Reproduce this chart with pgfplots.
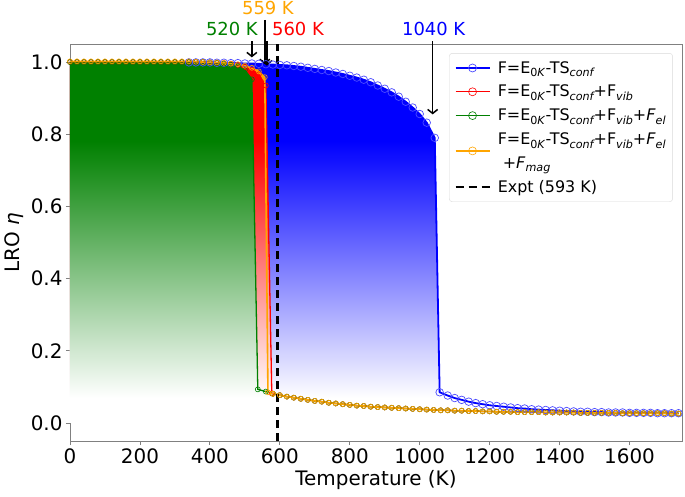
\documentclass[border=0pt]{standalone}
\usepackage{fontspec}
\setmainfont{DejaVu Sans}
\usepackage{pgfplots}
\pgfplotsset{compat=1.18}
\usepackage{pgfplotstable}
\usetikzlibrary{arrows.meta}
\definecolor{mgreen}{RGB}{0,128,0}
\definecolor{morange}{RGB}{255,165,0}
\newcommand\sub[1]{\raisebox{-0.22em}{\fontsize{11.2}{12}\selectfont\itshape #1}}
\newcommand\subOK{\raisebox{-0.22em}{\fontsize{11.2}{12}\selectfont 0\textit{K}}}
\pgfdeclareverticalshading{fblue}{100bp}{color(0bp)=(white); color(28.5bp)=(white); color(64bp)=(blue); color(100bp)=(blue)}
\pgfdeclareverticalshading{fred}{100bp}{color(0bp)=(white); color(28.5bp)=(white); color(64bp)=(red); color(100bp)=(red)}
\pgfdeclareverticalshading{fgreen}{100bp}{color(0bp)=(white); color(28.5bp)=(white); color(64bp)=(mgreen); color(100bp)=(mgreen)}
\pgfdeclareverticalshading{forange}{100bp}{color(0bp)=(white); color(28.5bp)=(white); color(64bp)=(morange); color(100bp)=(morange)}

\pgfplotstableread{
T eta
0 1.000
100 1.000
200 1.000
300 1.000
340 0.999
360 0.999
380 0.999
400 0.999
420 0.998
440 0.998
460 0.997
480 0.997
500 0.996
520 0.996
540 0.995
560 0.994
580 0.993
600 0.992
620 0.991
640 0.989
660 0.987
680 0.984
700 0.981
720 0.978
740 0.975
760 0.971
780 0.967
800 0.962
820 0.957
840 0.951
860 0.944
880 0.935
900 0.926
920 0.916
940 0.904
960 0.890
980 0.874
1000 0.856
1020 0.832
1043 0.790
1057 0.085
}\blueFill

\pgfplotstableread{
T eta
340 0.999
360 0.999
380 0.999
400 0.999
420 0.998
440 0.998
460 0.997
480 0.997
500 0.996
520 0.996
540 0.995
560 0.994
580 0.993
600 0.992
620 0.991
640 0.989
660 0.987
680 0.984
700 0.981
720 0.978
740 0.975
760 0.971
780 0.967
800 0.962
820 0.957
840 0.951
860 0.944
880 0.935
900 0.926
920 0.916
940 0.904
960 0.890
980 0.874
1000 0.856
1020 0.832
1043 0.790
1057 0.085
1080 0.076
1100 0.069
1120 0.064
1140 0.059
1160 0.055
1180 0.052
1200 0.049
1220 0.047
1240 0.045
1260 0.043
1280 0.041
1300 0.040
1320 0.038
1340 0.037
1360 0.036
1380 0.035
1400 0.034
1420 0.033
1440 0.032
1460 0.031
1480 0.031
1500 0.030
1520 0.030
1540 0.029
1560 0.029
1580 0.029
1600 0.028
1620 0.028
1640 0.028
1660 0.028
1680 0.027
1700 0.027
1720 0.027
1740 0.027
}\blueLine

\pgfplotstableread{
T eta
0 1.000
20 1.000
40 1.000
60 1.000
80 1.000
100 1.000
120 1.000
140 1.000
160 1.000
180 1.000
200 1.000
220 1.000
240 1.000
260 1.000
280 1.000
300 1.000
320 1.000
340 1.000
360 1.000
380 1.000
400 0.999
420 0.998
440 0.997
460 0.995
480 0.992
500 0.987
520 0.979
540 0.966
560 0.935
577 0.082
580 0.081
}\redTop

\pgfplotstableread{
T eta
0 1.000
20 1.000
40 1.000
60 1.000
80 1.000
100 1.000
120 1.000
140 1.000
160 1.000
180 1.000
200 1.000
220 1.000
240 1.000
260 1.000
280 1.000
300 1.000
320 1.000
340 1.000
360 1.000
380 1.000
400 0.999
420 0.998
440 0.996
460 0.993
480 0.988
500 0.978
520 0.952
537 0.093
560 0.087
580 0.081
}\greenTop

\pgfplotstableread{
T eta
0 1.002
20 1.002
40 1.002
60 1.002
80 1.002
100 1.002
120 1.002
140 1.002
160 1.002
180 1.002
200 1.002
220 1.002
240 1.002
260 1.002
280 1.002
300 1.002
320 1.002
340 1.002
360 1.001
380 1.000
400 0.999
420 0.999
440 0.998
460 0.996
480 0.994
500 0.990
520 0.984
540 0.974
557 0.958
566 0.085
580 0.081
}\orangeTop

\pgfplotstableread{
T eta
580 0.081
600 0.077
620 0.073
640 0.070
660 0.067
680 0.064
700 0.061
720 0.059
740 0.056
760 0.054
780 0.052
800 0.050
820 0.048
840 0.047
860 0.045
880 0.044
900 0.043
920 0.042
940 0.041
960 0.040
980 0.039
1000 0.038
1020 0.037
1040 0.036
1060 0.035
1080 0.035
1100 0.034
1120 0.034
1140 0.033
1160 0.033
1180 0.032
1200 0.032
1220 0.031
1240 0.031
1260 0.031
1280 0.030
1300 0.030
1320 0.030
1340 0.030
1360 0.029
1380 0.029
1400 0.029
1420 0.029
1440 0.029
1460 0.028
1480 0.028
1500 0.028
1520 0.028
1540 0.028
1560 0.028
1580 0.027
1600 0.027
1620 0.027
1640 0.027
1660 0.027
1680 0.027
1700 0.027
1720 0.026
1740 0.026
}\tailT

\begin{document}
\begin{tikzpicture}
\begin{axis}[
  width=612bp, height=397bp, scale only axis,
  xmin=0, xmax=1750, ymin=-0.05, ymax=1.05,
  xtick={0,200,400,600,800,1000,1200,1400,1600},
  ytick={0,0.2,0.4,0.6,0.8,1.0},
  /pgf/number format/assume math mode=true,
  /pgf/number format/1000 sep={},
  yticklabel style={/pgf/number format/.cd, fixed, fixed zerofill, precision=1},
  tick align=outside, xtick pos=lower, ytick pos=left,
  major tick length=4bp,
  tick style={gray, line width=0.8bp},
  axis line style={gray, line width=0.8bp},
  ticklabel style={font=\fontsize{20}{24}\selectfont},
  label style={font=\fontsize{20}{24}\selectfont},
  xlabel={Temperature (K)},
  ylabel={LRO \textit{η}},
  clip=false,
  legend style={at={(0.985,0.977)}, anchor=north east, draw=gray!30, rounded corners=3bp,
    fill=white, font=\fontsize{16}{19}\selectfont, row sep=6.5bp, column sep=5bp, inner xsep=5bp, inner ysep=6bp},
  legend cell align=left,
  legend image code/.code={\draw[mark repeat=2,mark phase=2,mark size=4bp] plot coordinates {(0bp,0bp) (17bp,0bp) (34bp,0bp)};},
]
% fills
\addplot[draw=none, shade, shading=fblue, forget plot] table {\blueFill} \closedcycle;
\addplot[draw=none, shade, shading=forange, forget plot] table {\orangeTop} \closedcycle;
\addplot[draw=none, shade, shading=fred, forget plot] table {\redTop} \closedcycle;
\addplot[draw=none, shade, shading=fgreen, forget plot] table {\greenTop} \closedcycle;

% lines
\addplot[blue, line width=1.8bp, mark=o, mark size=3.8bp, mark options={line width=0.7bp, blue!70}] table {\blueLine};
\addlegendentry{F=E\subOK-TS\sub{conf}}

\addplot[red, line width=1.3bp, mark=o, mark size=2.5bp, mark options={line width=0.6bp}] table {\redTop};
\addlegendentry{F=E\subOK-TS\sub{conf}+F\sub{vib}}
\addplot[red, line width=1.3bp, mark=o, mark size=2.5bp, mark options={line width=0.6bp}, forget plot] table {\tailT};

\addplot[mgreen, line width=1.3bp, mark=o, mark size=2.5bp, mark options={line width=0.6bp}] table {\greenTop};
\addlegendentry{F=E\subOK-TS\sub{conf}+F\sub{vib}+\textit{F}\sub{el}}
\addplot[mgreen, line width=1.3bp, mark=o, mark size=2.5bp, mark options={line width=0.6bp}, forget plot] table {\tailT};

\addplot[morange, line width=1.6bp, mark=o, mark size=2.5bp, mark options={line width=0.6bp},
  legend image code/.code={\path (0bp,0bp) (34bp,0bp); \draw[overlay, mark repeat=2,mark phase=2,mark size=4bp] plot coordinates {(0bp,-11.5bp) (17bp,-11.5bp) (34bp,-11.5bp)};}] table {\orangeTop};
\addlegendentry{F=E\subOK-TS\sub{conf}+F\sub{vib}+\textit{F}\sub{el}}
\addplot[morange, line width=1.6bp, mark=o, mark size=2.5bp, mark options={line width=0.6bp}, forget plot] table {\tailT};
\addlegendimage{empty legend}
\addlegendentry{\ +\textit{F}\sub{mag}}

\addplot[black, line width=2.5bp, dash pattern=on 8bp off 5bp, mark=none] coordinates {(593,-0.05) (593,1.05)};
\addlegendentry{Expt (593 K)}

% annotations
\node[text=mgreen, anchor=base, font=\fontsize{18}{20}\selectfont] at (axis cs:463,1.074) {520 K};
\node[text=morange, anchor=base, font=\fontsize{18}{20}\selectfont] at (axis cs:566,1.133) {559 K};
\node[text=red, anchor=base, font=\fontsize{18}{20}\selectfont] at (axis cs:652,1.074) {560 K};
\node[text=blue, anchor=base, font=\fontsize{18}{20}\selectfont] at (axis cs:1040,1.074) {1040 K};
\draw[line width=1.5bp, -{Straight Barb[length=4bp,width=10bp]}] (axis cs:520,1.057) -- (axis cs:520,1.013);
\draw[line width=1.5bp, -{Straight Barb[length=4bp,width=10bp]}] (axis cs:557,1.117) -- (axis cs:557,0.994);
\draw[line width=1.5bp, -{Straight Barb[length=4bp,width=10bp]}] (axis cs:563,1.057) -- (axis cs:563,0.99);
\draw[line width=1.5bp, -{Straight Barb[length=4bp,width=10bp]}] (axis cs:1037,1.057) -- (axis cs:1037,0.855);
\end{axis}
\pgfresetboundingbox
\path ([shift={(-70bp,-56bp)}]current axis.south west) rectangle ([shift={(3bp,44bp)}]current axis.north east);
\end{tikzpicture}
\end{document}
